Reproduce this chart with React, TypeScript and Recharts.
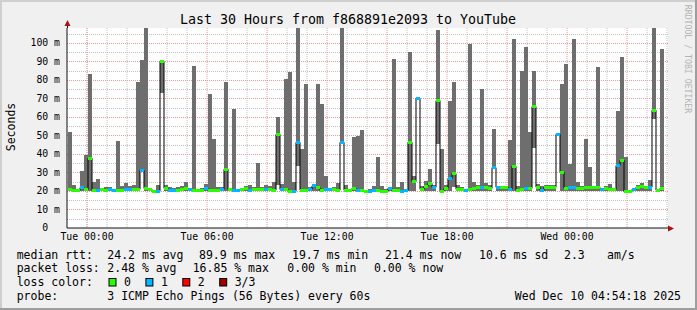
import React from 'react';
import {
  ComposedChart,
  Bar,
  Line,
  XAxis,
  YAxis,
  CartesianGrid,
} from 'recharts';

// one column every 12 minutes, hours relative to Tue 00:00
const FIRST_H = -0.85;
const STEP_H = 0.2;
const Y_MAX = 108;

const hiMs = [
  51.7, 23.2, 21, 31, 39.6, 82.9, 25, 26.7, 21, 22.3,
  22.3, 21, 47.2, 22.9, 24.5, 22.9, 23.2, 78.6, 90.5, 108,
  21, 20.5, 23, 90.9, 23, 22, 21.8, 22, 22.5, 25,
  21, 87.7, 20.8, 21.8, 24, 72.3, 48.3, 22, 22, 79,
  20.8, 64.5, 20.8, 21.4, 22.9, 23.2, 22, 35.3, 22, 23.2,
  22.6, 25, 60, 24, 80.7, 84.5, 25, 108, 42.5, 77.5,
  22, 24, 77.5, 66.7, 28.3, 20.8, 22, 24.3, 108, 23.2,
  20.8, 49.2, 49.7, 53, 20.2, 20.9, 22.9, 38.6, 22.9, 20.8,
  21.4, 91, 22.2, 25, 20.8, 95.3, 28.3, 70.5, 22.5, 25.6,
  31.7, 23, 106.7, 42.9, 23.4, 68.8, 78.6, 23.4, 22, 20.8,
  99.6, 25, 23.2, 75.3, 24.5, 23.2, 53.2, 22, 22, 22.7,
  47.7, 101.8, 22.9, 85, 98, 52, 85, 24, 22.9, 23.4,
  23.4, 23.4, 51, 77.5, 88.3, 34.8, 102.3, 25, 22.5, 48.3,
  33.2, 22, 86.7, 20.4, 22.9, 24, 21.4, 63.4, 92.6, 38.6,
  19.6, 21.4, 23.4, 24.5, 22, 26.1, 108, 20.4, 96.4,
];

const loMs = [
  20, 20, 20, 20, 20, 20, 20, 20, 20, 20,
  20, 20, 20, 20, 20, 20, 20, 20, 31, 20,
  20, 19.5, 19.5, 73, 20, 20, 20, 20, 20, 20,
  20, 20, 20, 20, 20, 20, 20, 20, 20, 20,
  20, 20, 20, 20, 20, 20, 20, 20, 20, 20,
  20, 20, 23, 20, 20, 19.5, 19.5, 33.7, 20, 20,
  20, 20, 20, 20, 20, 20, 20, 20, 46, 20,
  20, 20, 20, 20, 19.5, 19.5, 20, 20, 19.5, 19.5,
  20, 20, 20, 19.5, 20, 20, 20, 69, 20, 20,
  20, 20, 45.6, 19.5, 20, 20, 22, 20, 20, 20,
  20, 20, 20, 20, 20, 20, 32, 20, 20, 20,
  20, 20, 20, 20, 20, 20, 43.4, 20, 20, 20,
  20, 20, 50, 20, 20, 20, 20, 20, 20, 20,
  20, 20, 20, 20, 20, 20, 20, 20, 20, 19.5,
  19.5, 20, 20, 20, 20, 20, 58.6, 20, 20,
];

const medMs = [
  20.9, 20.4, 20.3, 21.8, 20.8, 37.7, 20.4, 20.4, 20.7, 20.5,
  20.7, 20.5, 20.4, 20.4, 20.7, 20.7, 20.7, 20.9, 31.2, 21.4,
  20.9, 19.8, 19.8, 90, 21.4, 20.4, 20.4, 20.4, 20.9, 21.4,
  20.9, 20.4, 20.4, 20.4, 21.4, 20.4, 20.4, 20.4, 20.9, 31.7,
  20.9, 20.4, 20.4, 20.7, 21.1, 20.4, 20.9, 20.9, 20.9, 20.9,
  20.9, 20.4, 50.6, 20.7, 20.9, 19.8, 19.8, 46.3, 20.4, 20.4,
  20.9, 22.7, 21.8, 20.4, 20.9, 20.9, 20.9, 20.4, 46.3, 20.4,
  20.4, 21.4, 20.4, 20.1, 19.6, 19.6, 20.4, 20.4, 19.6, 19.6,
  21.4, 20.4, 20.4, 19.6, 20.4, 46.3, 25, 70, 20.9, 22.5,
  24.1, 22, 68.8, 19.8, 21.4, 26.8, 29.4, 20.9, 20.9, 20.4,
  20.9, 21.4, 22, 22, 22, 21.4, 32.6, 22, 22, 22,
  20.9, 33.3, 20.4, 20.9, 21.4, 21.4, 65.6, 22, 20.4, 22,
  22, 22, 50.6, 30.1, 21.4, 22, 22, 21.4, 21.4, 22,
  22, 22, 22, 20.9, 21.4, 20.9, 20.9, 33.7, 36.6, 19.6,
  19.6, 20.9, 22, 22.5, 22, 22, 63.6, 20.4, 21.4,
];

// 0 = no loss, 1 = one of three pings lost
const lossCls = [
  0, 0, 0, 1, 0, 0, 0, 1, 0, 0,
  1, 1, 0, 0, 1, 1, 0, 0, 1, 0,
  0, 0, 1, 0, 0, 1, 1, 0, 0, 0,
  1, 0, 0, 0, 1, 0, 0, 0, 1, 0,
  0, 1, 1, 0, 0, 1, 0, 0, 0, 1,
  0, 0, 0, 1, 0, 0, 1, 1, 0, 0,
  1, 1, 0, 0, 1, 1, 0, 0, 1, 0,
  0, 0, 1, 0, 0, 1, 1, 0, 0, 0,
  1, 0, 0, 1, 1, 0, 0, 1, 0, 0,
  0, 1, 0, 0, 0, 1, 0, 0, 0, 1,
  0, 0, 0, 1, 0, 0, 1, 1, 0, 0,
  1, 0, 0, 0, 1, 0, 0, 0, 1, 0,
  0, 0, 1, 0, 0, 1, 1, 0, 0, 0,
  0, 0, 0, 1, 0, 0, 0, 1, 0, 0,
  0, 1, 0, 0, 0, 1, 0, 0, 0,
];

const xTicks = [0, 6, 12, 18, 24];
const xTickLabels = ['Tue 00:00', 'Tue 06:00', 'Tue 12:00', 'Tue 18:00', 'Wed 00:00'];
const yTicks = [0, 10, 20, 30, 40, 50, 60, 70, 80, 90, 100];
const yTickLabels = ['0  ', '10 m', '20 m', '30 m', '40 m', '50 m', '60 m', '70 m', '80 m', '90 m', '100 m'];
const minorHours = [0, 1, 2, 4, 5, 7, 8, 10, 11, 13, 14, 16, 17, 19, 20, 22, 23, 25, 26, 28, 29];
const majorHours = [0, 3, 6, 9, 12, 15, 18, 21, 24, 27];
const minorMs = [5, 15, 25, 35, 45, 55, 65, 75, 85, 95, 105];
const majorMs = [10, 20, 30, 40, 50, 60, 70, 80, 90, 100];

const LOSS_COLORS = ['#26ff00', '#00b8ff', '#ff0000', '#a00000'];
const lossLegend = ['0', '1', '2', '3/3'];

const data = medMs.map((m, i) => ({
  t: FIRST_H + i * STEP_H,
  range: [loMs[i], hiMs[i]],
  med: m,
  loss: lossCls[i],
}));

const W = 697;
const H = 310;
const PLOT = { left: 67, top: 28, width: 601, height: 200 };

const MONO = "'DejaVu Sans Mono', monospace";
const GRID = '#c0c0c0';
const MGRID = '#e69a9a';

// y of a value inside the plot box, snapped to the pixel grid (grid lines under the chart only)
const rowY = (v: number) => Math.round(PLOT.top + PLOT.height * (1 - v / Y_MAX)) + 0.5;

const YTick = ({ x, y, payload }: any) => (
  <text x={x} y={y} dy="0.35em" textAnchor="end" fontFamily={MONO} fontSize={9.8} fill="#000" style={{ whiteSpace: 'pre' }}>
    {yTickLabels[yTicks.indexOf(payload.value)]}
  </text>
);

const XTick = ({ x, y, payload }: any) => (
  <text x={x} y={y} dy="0.35em" textAnchor="middle" fontFamily={MONO} fontSize={9.8} fill="#000">
    {xTickLabels[xTicks.indexOf(payload.value)]}
  </text>
);

const SmokeBar = ({ x, y, width, height }: any) => (
  <rect x={x} y={y} width={width} height={height} fill="#6e6e6e" shapeRendering="crispEdges" />
);

const MedianDot = ({ cx, cy, payload, index }: any) => {
  if (cx == null || cy == null) return null;
  return (
    <rect key={`md-${index}`} x={cx - 2} y={cy - 1.5} width={4} height={3} fill={LOSS_COLORS[payload.loss]} shapeRendering="crispEdges" />
  );
};

const Txt = ({ x, y, children, anchor = 'start' }: any) => (
  <text x={x} y={y} dy="0.35em" textAnchor={anchor} fontFamily={MONO} fontSize={11.5} fill="#000" style={{ whiteSpace: 'pre' }}>
    {children}
  </text>
);

export default function App() {
  return (
    <div style={{ position: 'relative', width: W, height: H, background: '#f0f0f0' }}>
      <style>{'body{margin:0}'}</style>
      {/* canvas and horizontal grid, underneath the chart */}
      <svg width={W} height={H} style={{ position: 'absolute', left: 0, top: 0 }}>
        <rect x={PLOT.left} y={PLOT.top} width={PLOT.width} height={PLOT.height} fill="#ffffff" />
        {minorMs.map((v) => (
          <line key={`g-${v}`} x1={PLOT.left} x2={PLOT.left + PLOT.width} y1={rowY(v)} y2={rowY(v)} stroke={GRID} strokeWidth={1} strokeDasharray="1 1" />
        ))}
        {majorMs.map((v) => (
          <line key={`G-${v}`} x1={PLOT.left} x2={PLOT.left + PLOT.width} y1={rowY(v)} y2={rowY(v)} stroke={MGRID} strokeWidth={1} strokeDasharray="1 1" />
        ))}
      </svg>
      <div style={{ position: 'absolute', left: 0, top: 0 }}>
        <ComposedChart
          width={W}
          height={H}
          data={data}
          margin={{ top: 28, right: 29, bottom: 52, left: 7 }}
        >
          <CartesianGrid stroke={GRID} strokeDasharray="1 1" horizontal={false} verticalValues={minorHours} />
          <CartesianGrid stroke={MGRID} strokeDasharray="1 1" horizontal={false} verticalValues={majorHours} />
          <XAxis
            type="number"
            dataKey="t"
            domain={[-1, 29.05]}
            allowDataOverflow
            ticks={xTicks}
            interval={0}
            tick={<XTick />}
            tickLine={false}
            tickSize={0}
            tickMargin={9}
            height={30}
            axisLine={{ stroke: '#101010' }}
          />
          <YAxis
            type="number"
            domain={[0, Y_MAX]}
            allowDataOverflow
            ticks={yTicks}
            interval={0}
            tick={<YTick />}
            tickLine={false}
            tickSize={0}
            tickMargin={7}
            width={60}
            axisLine={{ stroke: '#101010' }}
          />
          <Bar dataKey="range" barSize={4} shape={SmokeBar} isAnimationActive={false} />
          <Line
            dataKey="med"
            type="step"
            stroke="#000"
            strokeWidth={1}
            dot={MedianDot}
            activeDot={false}
            isAnimationActive={false}
          />
        </ComposedChart>
      </div>
      <svg width={W} height={H} style={{ position: 'absolute', left: 0, top: 0, pointerEvents: 'none' }}>
        <rect x={0} y={0} width={W} height={2} fill="#cfcfcf" />
        <rect x={0} y={0} width={2} height={H} fill="#cfcfcf" />
        <rect x={0} y={H - 2} width={W} height={2} fill="#9e9e9e" />
        <rect x={W - 2} y={0} width={2} height={H} fill="#9e9e9e" />
        <text x={348} y={19} dy="0.35em" textAnchor="middle" fontFamily={MONO} fontSize={13.3} fill="#000">
          Last 30 Hours from f868891e2093 to YouTube
        </text>
        <text transform="translate(11,127) rotate(-90)" dy="0.35em" textAnchor="middle" fontFamily={MONO} fontSize={11.5} fill="#000">
          Seconds
        </text>
        <text transform="translate(688,59) rotate(90)" dy="0.35em" textAnchor="middle" fontFamily={MONO} fontSize={8.2} fill="#b4b4b4">
          RRDTOOL / TOBI OETIKER
        </text>
        <line x1={67.5} y1={22} x2={67.5} y2={28} stroke="#101010" />
        <polygon points="67.5,20 64.5,26 70.5,26" fill="#a31515" />
        <polygon points="674,228.5 668,225.5 668,231.5" fill="#a31515" />

        <Txt x={16.7} y={254.7}>median rtt:</Txt>
        <Txt x={107.3} y={254.7}>24.2 ms avg</Txt>
        <Txt x={199} y={254.7}>89.9 ms max</Txt>
        <Txt x={292} y={254.7}>19.7 ms min</Txt>
        <Txt x={385} y={254.7}>21.4 ms now</Txt>
        <Txt x={479} y={254.7}>10.6 ms sd</Txt>
        <Txt x={564} y={254.7}>2.3</Txt>
        <Txt x={607} y={254.7}>am/s</Txt>

        <Txt x={16.7} y={268.3}>packet loss:</Txt>
        <Txt x={107.3} y={268.3}>2.48 % avg</Txt>
        <Txt x={192.7} y={268.3}>16.85 % max</Txt>
        <Txt x={287.3} y={268.3}>0.00 % min</Txt>
        <Txt x={374} y={268.3}>0.00 % now</Txt>

        <Txt x={16.7} y={282.3}>loss color:</Txt>
        {lossLegend.map((lbl, i) => (
          <g key={lbl}>
            <rect x={109 + i * 36.9} y={278.5} width={7} height={7.5} fill={LOSS_COLORS[i]} stroke="#000" strokeWidth={1} />
            <Txt x={124 + i * 36.9} y={282.3}>{lbl}</Txt>
          </g>
        ))}

        <Txt x={16.7} y={296.3}>probe:</Txt>
        <Txt x={107.3} y={296.3}>3 ICMP Echo Pings (56 Bytes) every 60s</Txt>
        <Txt x={681} y={296.3} anchor="end">Wed Dec 10 04:54:18 2025</Txt>
      </svg>
    </div>
  );
}
